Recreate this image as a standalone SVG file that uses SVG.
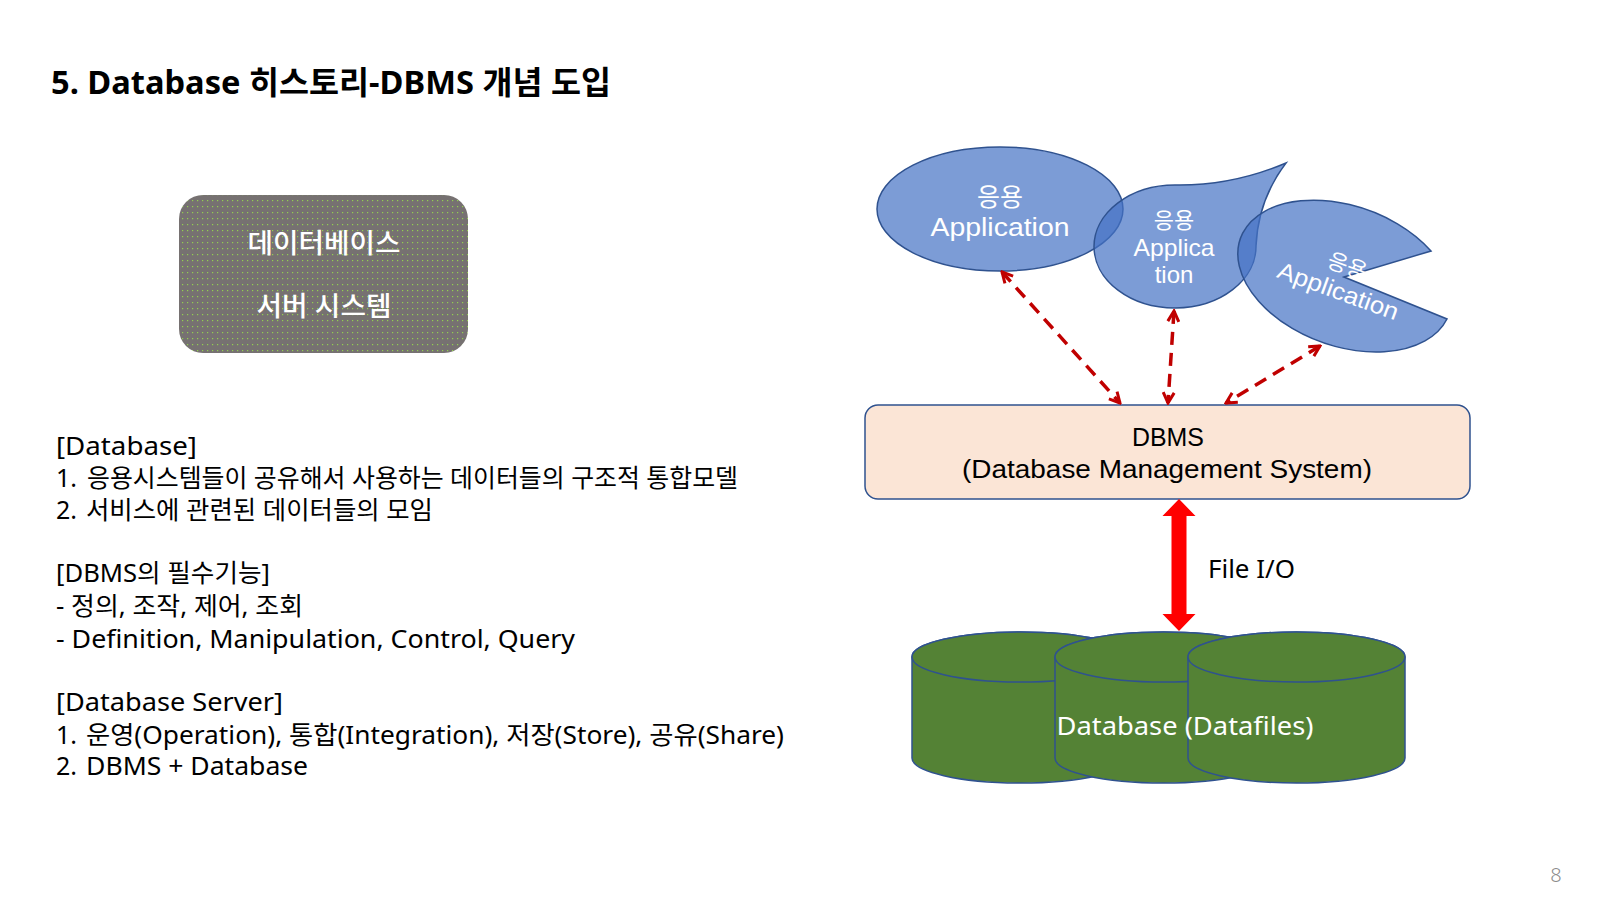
<svg xmlns="http://www.w3.org/2000/svg" width="1600" height="900" viewBox="0 0 1600 900">
<style>
text{font-family:"Noto Sans","Noto Sans CJK KR",sans-serif;}
.body{font-size:25px;fill:#000;}
.w{fill:#fff;text-anchor:middle;}
.lbl{font-family:"Liberation Sans","Noto Sans CJK KR",sans-serif;}
.app{fill:#4472C4;fill-opacity:0.7;stroke:#2F528F;stroke-width:1.5;}
.cyl{fill:#548235;stroke:#2F528F;stroke-width:1.5;}
.dash{fill:none;stroke:#C00000;stroke-width:3.5;stroke-dasharray:13 8;marker-start:url(#chev);marker-end:url(#chev);}
</style>
<defs>
<pattern id="dots" width="5" height="6" patternUnits="userSpaceOnUse">
<rect width="5" height="6" fill="#767171"/>
<rect x="2" y="2" width="1.2" height="1.2" fill="#92D050"/>
</pattern>
<marker id="chev" viewBox="0 0 14 14" refX="12" refY="7" markerWidth="14" markerHeight="14" markerUnits="userSpaceOnUse" orient="auto-start-reverse">
<path d="M1.5,1.5 L12,7 L1.5,12.5" fill="none" stroke="#C00000" stroke-width="3" stroke-dasharray="none"/>
</marker>
</defs>
<rect width="1600" height="900" fill="#fff"/>

<g id="title">
<text x="51" y="94" font-size="32" font-weight="bold" textLength="560" lengthAdjust="spacingAndGlyphs">5. Database 히스토리-DBMS 개념 도입</text>
</g>

<g id="db-server-system">
<rect x="179" y="195" width="289" height="158" rx="24" fill="url(#dots)"/>
<text class="w" x="324" y="253" font-size="27" font-weight="500" textLength="153" lengthAdjust="spacingAndGlyphs">데이터베이스</text>
<text class="w" x="324" y="316" font-size="27" font-weight="500" textLength="135" lengthAdjust="spacingAndGlyphs">서버 시스템</text>
</g>

<g id="notes" class="body">
<text class="body" x="56" y="455" textLength="141" lengthAdjust="spacingAndGlyphs">[Database]</text>
<text class="body" x="56" y="487">1.</text>
<text class="body" x="87" y="487" textLength="651" lengthAdjust="spacingAndGlyphs">응용시스템들이 공유해서 사용하는 데이터들의 구조적 통합모델</text>
<text class="body" x="56" y="519">2.</text>
<text class="body" x="86" y="519" textLength="347" lengthAdjust="spacingAndGlyphs">서비스에 관련된 데이터들의 모임</text>
<text class="body" x="56" y="582" textLength="214" lengthAdjust="spacingAndGlyphs">[DBMS의 필수기능]</text>
<text class="body" x="56" y="615" textLength="247" lengthAdjust="spacingAndGlyphs">- 정의, 조작, 제어, 조회</text>
<text class="body" x="56" y="648" textLength="519" lengthAdjust="spacingAndGlyphs">- Definition, Manipulation, Control, Query</text>
<text class="body" x="56" y="711" textLength="227" lengthAdjust="spacingAndGlyphs">[Database Server]</text>
<text class="body" x="56" y="744">1.</text>
<text class="body" x="86" y="744" textLength="698" lengthAdjust="spacingAndGlyphs">운영(Operation), 통합(Integration), 저장(Store), 공유(Share)</text>
<text class="body" x="56" y="775">2.</text>
<text class="body" x="86" y="775" textLength="222" lengthAdjust="spacingAndGlyphs">DBMS + Database</text>
</g>

<g id="app1">
<ellipse class="app" cx="1000" cy="209" rx="123" ry="62"/>
<text class="w lbl" x="1000" y="206" font-size="25">응용</text>
<text class="w lbl" x="1000" y="236" font-size="26" textLength="139" lengthAdjust="spacingAndGlyphs">Application</text>
</g>

<g id="app2">
<path class="app" d="M1175,185 Q1232,186 1286,163 Q1258,200 1256,246 A81 61.5 0 1 1 1175,185 Z"/>
<text class="w lbl" x="1174" y="228" font-size="22">응용</text>
<text class="w lbl" x="1174" y="256" font-size="24" textLength="81" lengthAdjust="spacingAndGlyphs">Applica</text>
<text class="w lbl" x="1174" y="283" font-size="24">tion</text>
</g>

<g id="app3">
<path class="app" d="M1344,277 L1431,251 A111 70 20 1 0 1447,319 Z"/>
<text class="w lbl" font-size="24" transform="translate(1343,278) rotate(20)"><tspan x="0" y="-5" font-size="22">응용</tspan><tspan x="0" y="22" textLength="127" lengthAdjust="spacingAndGlyphs">Application</tspan></text>
</g>

<g id="dbms">
<rect x="865" y="405" width="605" height="94" rx="13" fill="#FBE5D6" stroke="#2F528F" stroke-width="1.5"/>
<text class="lbl" x="1168" y="446" font-size="26" text-anchor="middle" textLength="72" lengthAdjust="spacingAndGlyphs">DBMS</text>
<text class="lbl" x="1167" y="478" font-size="26" text-anchor="middle" textLength="410" lengthAdjust="spacingAndGlyphs">(Database Management System)</text>
</g>

<g id="database">
<path class="cyl" d="M912,657 L912,758 A108.5 25 0 0 0 1129,758 L1129,657 A108.5 25 0 0 0 912,657 Z"/>
<ellipse class="cyl" cx="1020.5" cy="657" rx="108.5" ry="25"/>
<path class="cyl" d="M1055,657 L1055,758 A108.5 25 0 0 0 1272,758 L1272,657 A108.5 25 0 0 0 1055,657 Z"/>
<ellipse class="cyl" cx="1163.5" cy="657" rx="108.5" ry="25"/>
<path class="cyl" d="M1188,657 L1188,758 A108.5 25 0 0 0 1405,758 L1405,657 A108.5 25 0 0 0 1188,657 Z"/>
<ellipse class="cyl" cx="1296.5" cy="657" rx="108.5" ry="25"/>
<text x="1185" y="735" font-size="26" fill="#fff" text-anchor="middle" textLength="257" lengthAdjust="spacingAndGlyphs">Database (Datafiles)</text>
</g>

<g id="connectors">
<path class="dash" d="M1002,272 L1120,403"/>
<path class="dash" d="M1174,311 L1168,403"/>
<path class="dash" d="M1320,346 L1226,403"/>
<polygon points="1179,499 1195.5,516 1186.5,516 1186.5,614 1195.5,614 1179,631 1162.5,614 1171.5,614 1171.5,516 1162.5,516" fill="#FF0000"/>
<text x="1208" y="578" font-size="26" textLength="87" lengthAdjust="spacingAndGlyphs">File I/O</text>
</g>

<text x="1556" y="882" font-size="20" fill="#8B8B8B" text-anchor="middle" font-weight="300">8</text>
</svg>
